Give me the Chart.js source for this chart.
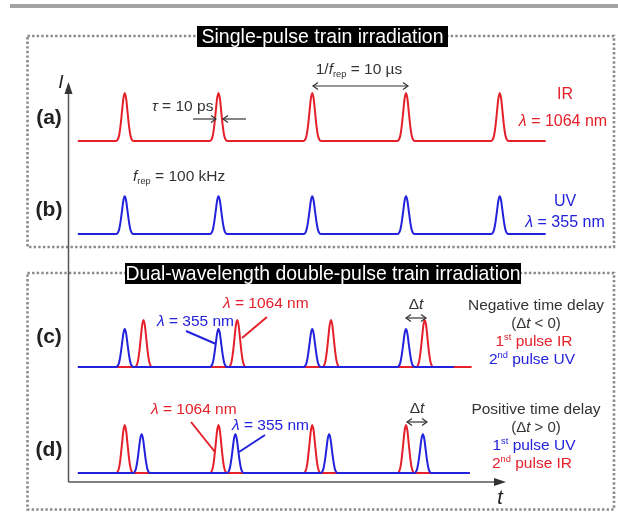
<!DOCTYPE html>
<html>
<head>
<meta charset="utf-8">
<script src="https://cdn.jsdelivr.net/npm/chart.js@4.4.0/dist/chart.umd.min.js"></script>
<style>
html,body{margin:0;padding:0;background:#fff;}
canvas{display:block;}
</style>
</head>
<body>
<canvas id="c" width="618" height="512"></canvas>
<script>
// ---------------- DATA ----------------
const rowLabels = ['(a)', '(b)', '(c)', '(d)'];
// pulse arrival times (schematic axis, µs)
const timesA_IR = [6, 16, 26, 36, 46];
const timesB_UV = [6, 16, 26, 36, 46];
const timesC_UV = [6, 16, 26, 36];
const timesC_IR = [8, 18, 28, 38];
const timesD_IR = [6, 16, 26, 36];
const timesD_UV = [7.8, 17.8, 27.8, 37.8];
// relative peak intensities
const ampA_IR = 1.0;
const ampB_UV = 0.79;
const ampC_UV = 0.79;
const ampC_IR = 0.98;
const ampD_IR = 1.0;
const ampD_UV = 0.81;
// pulse profile: [time offset (µs), relative intensity]
const pulseProfile = [[-0.95,0],[-0.75,0.03],[-0.6,0.12],[-0.45,0.32],[-0.3,0.6],[-0.15,0.88],[0,1],
                      [0.15,0.88],[0.3,0.6],[0.45,0.32],[0.6,0.12],[0.75,0.03],[0.95,0]];
// trace start / end times
const traceStart = 1.0;
const endAB = 50.9;
const endC_IR = 43.0, endC_UV = 41.1;
const endD = 42.8;

// ---------------- LAYOUT ----------------
const PX_PER_T = 9.375, T0_PX = 68.5;
const XMIN = -T0_PX / PX_PER_T, XMAX = XMIN + 618 / PX_PER_T;
const PX_PER_I = 48, YMAX = 512 / PX_PER_I;
const rowBase = [7.73, 5.79, 3.02, 0.81];
const RED = '#e4202a', BLUE = '#2222dc', INK = '#333333';
const FONT = '"Liberation Sans", Arial, sans-serif';

function trace(times, amp, base, t0, t1) {
  const pts = [{x: t0, y: base}];
  times.forEach(tc => pulseProfile.forEach(p => pts.push({x: tc + p[0], y: base + amp * p[1]})));
  pts.push({x: t1, y: base});
  return pts;
}
function ds(data, color, order) {
  return {data, borderColor: color, borderWidth: 2, pointRadius: 0, fill: false,
          cubicInterpolationMode: 'monotone', order};
}

// ---------------- RICH TEXT ----------------
function fontFor(st, size) {
  st = st || '';
  const small = (st.includes('sub') || st.includes('sup'));
  const sz = small ? size * 0.6 : size;
  const ital = (st === 'i' || st === 'ib');
  const bold = (st === 'b' || st === 'ib');
  return (ital ? 'italic ' : '') + (bold ? 'bold ' : '') + sz + 'px ' + FONT;
}
function rich(ctx, segs, x, y, size, color, align, hs) {
  hs = hs || 1;
  let w = 0;
  segs.forEach(s => { ctx.font = fontFor(s[1], size); w += ctx.measureText(s[0]).width; });
  w *= hs;
  let cx = align === 'center' ? x - w / 2 : (align === 'right' ? x - w : x);
  ctx.save();
  ctx.fillStyle = color;
  ctx.textBaseline = 'middle';
  ctx.textAlign = 'left';
  ctx.translate(cx, y);
  ctx.scale(hs, 1);
  let px = 0;
  segs.forEach(s => {
    const st = s[1] || '';
    ctx.font = fontFor(st, size);
    let dy = 0;
    if (st.includes('sub')) dy = size * 0.3;
    if (st.includes('sup')) dy = -size * 0.3;
    ctx.fillText(s[0], px, dy);
    px += ctx.measureText(s[0]).width;
  });
  ctx.restore();
}
function line(ctx, x1, y1, x2, y2, color, w) {
  ctx.strokeStyle = color; ctx.lineWidth = w; ctx.setLineDash([]);
  ctx.beginPath(); ctx.moveTo(x1, y1); ctx.lineTo(x2, y2); ctx.stroke();
}
function openHead(ctx, x, y, dir, color) {
  ctx.strokeStyle = color; ctx.lineWidth = 1.2; ctx.setLineDash([]);
  ctx.beginPath();
  ctx.moveTo(x - dir * 5, y - 3.5); ctx.lineTo(x, y); ctx.lineTo(x - dir * 5, y + 3.5);
  ctx.stroke();
}
function arrow(ctx, x1, x2, y, color, both) {
  line(ctx, x1, y, x2, y, color, 1.2);
  openHead(ctx, x2, y, x2 > x1 ? 1 : -1, color);
  if (both) openHead(ctx, x1, y, x2 > x1 ? -1 : 1, color);
}
function dottedBox(ctx, x1, y1, x2, y2) {
  ctx.save();
  ctx.strokeStyle = '#8a8a8a'; ctx.lineWidth = 2.6; ctx.setLineDash([2.4, 2.2]);
  ctx.beginPath();
  ctx.rect(x1, y1, x2 - x1, y2 - y1);
  ctx.stroke();
  ctx.restore();
}
function title(ctx, text, x1, x2, y1, y2, hs) {
  ctx.fillStyle = '#000';
  ctx.fillRect(x1, y1, x2 - x1, y2 - y1);
  rich(ctx, [[text]], (x1 + x2) / 2, (y1 + y2) / 2 + 1, 21, '#fff', 'center', hs);
}

const decor = {
  id: 'decor',
  beforeDatasetsDraw(chart) {
    const ctx = chart.ctx;
    ctx.save();
    ctx.fillStyle = '#a3a3a3';
    ctx.fillRect(10, 4, 608, 4);
    dottedBox(ctx, 27.5, 36, 614, 247);
    dottedBox(ctx, 27.5, 273, 614, 509.5);
    title(ctx, 'Single-pulse train irradiation', 197, 448, 26, 47, 0.93);
    title(ctx, 'Dual-wavelength double-pulse train irradiation', 125, 521, 263, 284, 0.925);
    ctx.restore();
  },
  afterDatasetsDraw(chart) {
    const ctx = chart.ctx;
    const xs = chart.scales.x;
    const ax = Math.round(xs.getPixelForValue(0)) - 0.5;
    ctx.save();
    // axes
    line(ctx, ax, 92, ax, 482, '#555', 1.5);
    ctx.fillStyle = '#333';
    ctx.beginPath(); ctx.moveTo(ax, 82); ctx.lineTo(ax - 4, 94); ctx.lineTo(ax + 4, 94); ctx.closePath(); ctx.fill();
    line(ctx, ax, 482, 495, 482, '#555', 1.5);
    ctx.beginPath(); ctx.moveTo(506, 482); ctx.lineTo(494, 478); ctx.lineTo(494, 486); ctx.closePath(); ctx.fill();
    rich(ctx, [['I', 'i']], 61, 83, 19, '#222', 'center');
    rich(ctx, [['t', 'i']], 500, 498, 20, '#222', 'center');

    // row labels
    const ly = [118, 210, 337, 450];
    rowLabels.forEach((l, i) => rich(ctx, [[l, 'b']], 49, ly[i], 21, '#222', 'center'));

    // (a)
    rich(ctx, [['1/'], ['f', 'i'], ['rep', 'sub'], [' = 10 µs']], 359, 70, 15.5, INK, 'center');
    arrow(ctx, 313, 408, 86, INK, true);
    rich(ctx, [['τ', 'i'], [' = 10 ps']], 152, 107, 15.5, INK, 'left');
    arrow(ctx, 193, 216, 119, INK, false);
    arrow(ctx, 246, 223, 119, INK, false);
    rich(ctx, [['IR']], 565, 95, 16, RED, 'center');
    rich(ctx, [['λ', 'i'], [' = 1064 nm']], 563, 122, 16, RED, 'center');

    // (b)
    rich(ctx, [['f', 'i'], ['rep', 'sub'], [' = 100 kHz']], 133, 177, 15.5, INK, 'left');
    rich(ctx, [['UV']], 565, 202, 16, BLUE, 'center');
    rich(ctx, [['λ', 'i'], [' = 355 nm']], 565, 223, 16, BLUE, 'center');

    // (c)
    rich(ctx, [['λ', 'i'], [' = 1064 nm']], 223, 304, 15.5, RED, 'left');
    rich(ctx, [['λ', 'i'], [' = 355 nm']], 157, 322, 15.5, BLUE, 'left');
    line(ctx, 186, 331, 216, 344, BLUE, 2);
    line(ctx, 267, 317, 242, 338, RED, 2);
    rich(ctx, [['Δ'], ['t', 'i']], 416, 305, 15.5, INK, 'center');
    arrow(ctx, 406, 426, 318, INK, true);
    rich(ctx, [['Negative time delay']], 536, 306, 15.5, INK, 'center');
    rich(ctx, [['(Δ'], ['t', 'i'], [' < 0)']], 536, 324, 15, INK, 'center');
    rich(ctx, [['1'], ['st', 'sup'], [' pulse IR']], 534, 342, 15.5, RED, 'center');
    rich(ctx, [['2'], ['nd', 'sup'], [' pulse UV']], 532, 360, 15.5, BLUE, 'center');

    // (d)
    rich(ctx, [['λ', 'i'], [' = 1064 nm']], 151, 410, 15.5, RED, 'left');
    rich(ctx, [['λ', 'i'], [' = 355 nm']], 232, 426, 15.5, BLUE, 'left');
    line(ctx, 191, 422, 215, 452, RED, 2);
    line(ctx, 265, 435, 239, 452, BLUE, 2);
    rich(ctx, [['Δ'], ['t', 'i']], 417, 409, 15.5, INK, 'center');
    arrow(ctx, 407, 427, 422, INK, true);
    rich(ctx, [['Positive time delay']], 536, 410, 15.5, INK, 'center');
    rich(ctx, [['(Δ'], ['t', 'i'], [' > 0)']], 536, 428, 15, INK, 'center');
    rich(ctx, [['1'], ['st', 'sup'], [' pulse UV']], 534, 446, 15.5, BLUE, 'center');
    rich(ctx, [['2'], ['nd', 'sup'], [' pulse IR']], 532, 464, 15.5, RED, 'center');
    ctx.restore();
  }
};

new Chart(document.getElementById('c'), {
  type: 'line',
  data: {
    datasets: [
      ds(trace(timesA_IR, ampA_IR, rowBase[0], traceStart, endAB), RED, 2),
      ds(trace(timesB_UV, ampB_UV, rowBase[1], traceStart, endAB), BLUE, 1),
      ds(trace(timesC_IR, ampC_IR, rowBase[2], traceStart, endC_IR), RED, 2),
      ds(trace(timesC_UV, ampC_UV, rowBase[2], traceStart, endC_UV), BLUE, 1),
      ds(trace(timesD_IR, ampD_IR, rowBase[3], traceStart, endD), RED, 2),
      ds(trace(timesD_UV, ampD_UV, rowBase[3], traceStart, endD), BLUE, 1)
    ]
  },
  options: {
    responsive: false,
    maintainAspectRatio: false,
    animation: false,
    layout: {padding: 0},
    scales: {
      x: {type: 'linear', min: XMIN, max: XMAX, display: false},
      y: {type: 'linear', min: 0, max: YMAX, display: false}
    },
    plugins: {legend: {display: false}, tooltip: {enabled: false}}
  },
  plugins: [decor]
});
</script>
</body>
</html>
